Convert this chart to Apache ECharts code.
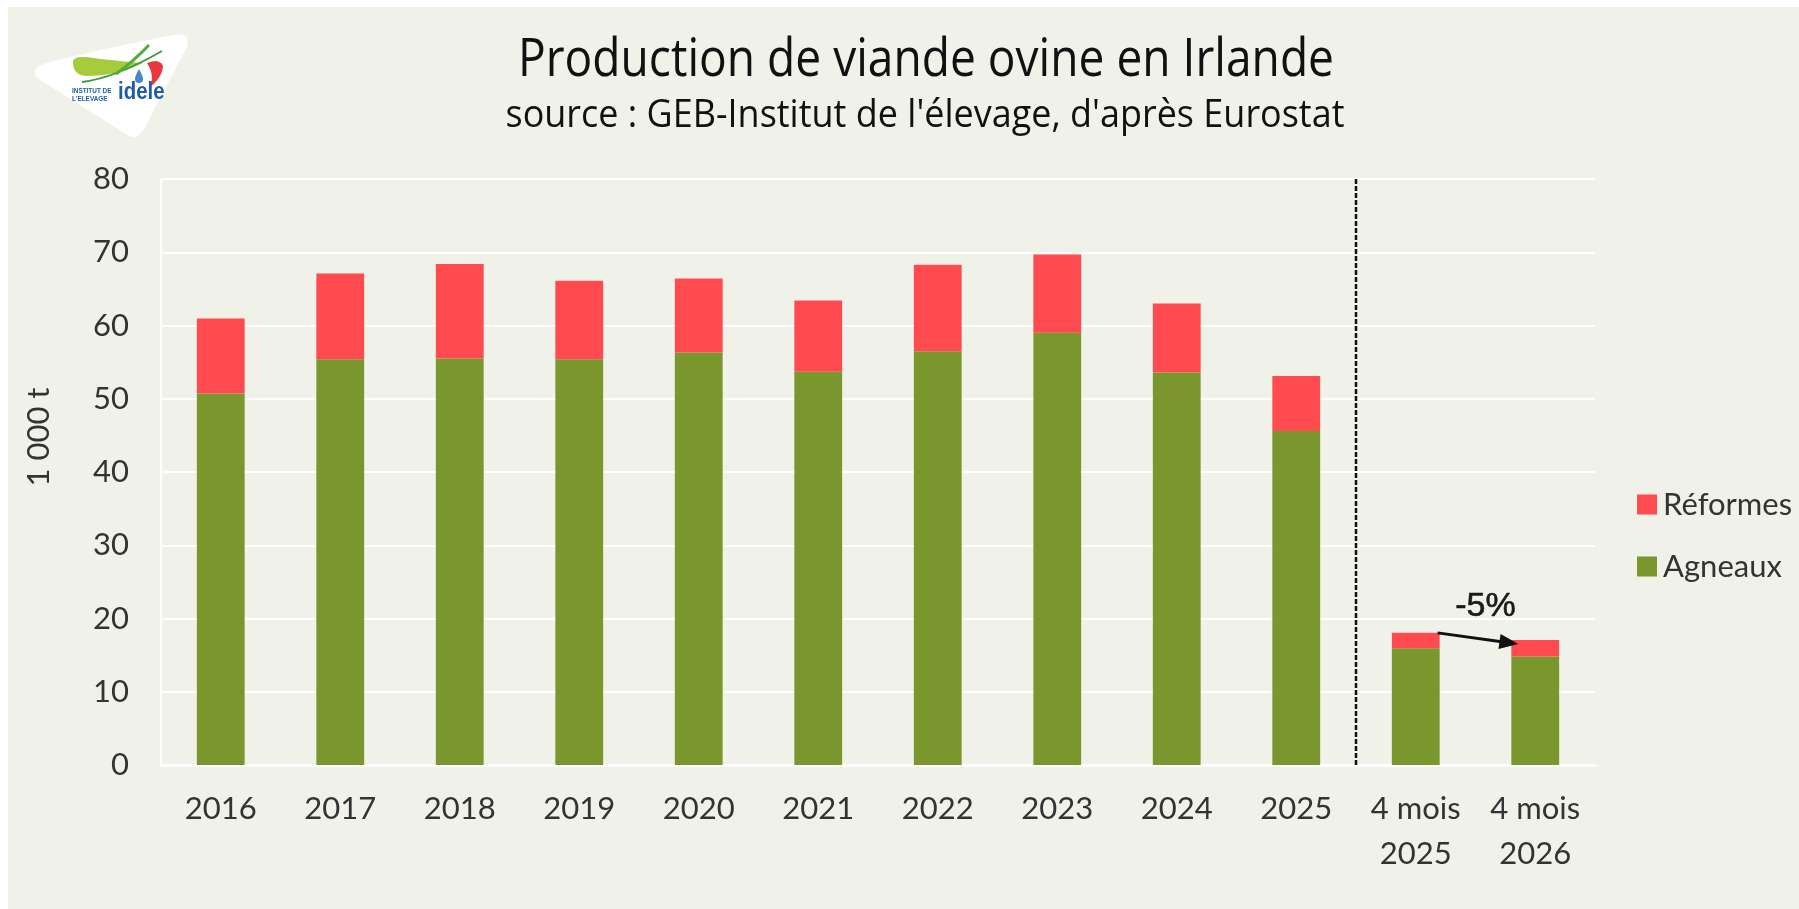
<!DOCTYPE html>
<html><head><meta charset="utf-8">
<script src="https://cdn.jsdelivr.net/npm/echarts@6/dist/echarts.min.js"></script>
<style>
html,body{margin:0;padding:0;background:#fff;overflow:hidden;}
#bg{position:absolute;left:8px;top:7px;width:1791px;height:902px;background:#F0F1E9;}
#c{position:absolute;left:0;top:0;width:1799px;height:909px;}
</style>
</head><body><div id="bg"></div><div id="c"></div>
<script>
const categories = ['2016','2017','2018','2019','2020','2021','2022','2023','2024','2025','4 mois\n2025','4 mois\n2026'];
const agneaux  = [50.7, 55.4, 55.5, 55.4, 56.3, 53.7, 56.5, 59.0, 53.6, 45.6, 15.95, 14.8];
const reformes = [10.25, 11.7, 12.9, 10.7, 10.1, 9.7, 11.8, 10.7, 9.4, 7.5, 2.1, 2.25];
const legendNames = ['Réformes', 'Agneaux'];
const titleText = 'Production de viande ovine en Irlande';
const subtitleText = "source : GEB-Institut de l'élevage, d'après Eurostat";
const yName = '1 000 t';
const annotationText = '-5%';

const GREEN = '#7A972D', RED = '#FF4B50';
const LBL = 'Lato, "Noto Sans", sans-serif';

const chart = echarts.init(document.getElementById('c'), null, {renderer:'canvas'});
chart.setOption({
  animation:false,
  grid:{left:161, right:204, top:179, bottom:144},
  legend:{
    data:legendNames, orient:'vertical', left:1632, top:484, itemWidth:20, itemHeight:20, itemGap:31,
    icon:'rect', textStyle:{fontSize:31, lineHeight:31, color:'#333', fontFamily:LBL, padding:[0,0,0,1]}
  },
  xAxis:{
    type:'category', data:categories,
    axisTick:{show:false},
    axisLine:{show:true, lineStyle:{color:'#fff', width:3}},
    axisLabel:{fontSize:31, lineHeight:45, margin:21, color:'#333', fontFamily:LBL, interval:0}
  },
  yAxis:{
    type:'value', min:0, max:80, interval:10,
    axisLine:{show:true, lineStyle:{color:'#fff', width:2}},
    axisTick:{show:false},
    splitLine:{lineStyle:{color:'#fff', width:2}},
    axisLabel:{fontSize:31, margin:32, color:'#333', fontFamily:LBL}
  },
  series:[
    {name:'Agneaux', type:'bar', stack:'t', data:agneaux, barWidth:'40%', itemStyle:{color:GREEN}},
    {name:'Réformes', type:'bar', stack:'t', data:reformes, barWidth:'40%', itemStyle:{color:RED}}
  ]
});

// layout helpers derived from the library scales
const px = i => chart.convertToPixel({xAxisIndex:0}, i);
const py = v => chart.convertToPixel({yAxisIndex:0}, v);
function measure(text, font){ const c=document.createElement('canvas').getContext('2d'); c.font=font; return c.measureText(text).width; }

const tScale = 816 / measure(titleText, '53px "Open Sans"');
const sScale = 839 / measure(subtitleText, '39px "Open Sans"');

const x9 = px(9), x10 = px(10), x11 = px(11);
const band = x11 - x10, half = band*0.2;
const sepX = (x9 + x10)/2;
const start = [x10 + half - 2, py(agneaux[10] + reformes[10])];
const tip = [x11 - half + 7, py(agneaux[11] + reformes[11]) + 4];
const dx = tip[0]-start[0], dy = tip[1]-start[1], L = Math.hypot(dx,dy);
const ux = dx/L, uy = dy/L, nx = -uy, ny = ux;
const hl = 19, hw = 7.5;
const base = [tip[0]-ux*hl, tip[1]-uy*hl];

// logo outline helper: sequence of [start, control, end] quadratic segments and straight joins
function quad(p0, c, p1, n){ const out=[]; for(let i=0;i<=n;i++){const t=i/n, a=(1-t)*(1-t), b=2*(1-t)*t, d=t*t; out.push([a*p0[0]+b*c[0]+d*p1[0], a*p0[1]+b*c[1]+d*p1[1]]);} return out; }
const logoShape = [].concat(
  quad([46,63],[110,47],[174,35],8),
  quad([174,35],[191,31],[187,47],6),
  quad([187,47],[165,88],[144,129],6),
  quad([144,129],[137,142],[126,134],6),
  quad([126,134],[83,107],[40,80],6),
  quad([40,80],[27,70],[46,63],6)
);
const leaf = [].concat(
  quad([73,63],[72,56],[86,57],5),
  quad([86,57],[116,61],[143,63],8),
  quad([143,63],[116,76],[86,76],8),
  quad([86,76],[73,75],[73,63],5)
);
const redShape = [].concat(
  quad([147,63],[160,58],[163,66],5),
  quad([163,66],[162,78],[150,87],6),
  quad([150,87],[155,75],[147,63],6)
);
const drop = [].concat(
  quad([139,69],[135,76],[135,79],4),
  quad([135,79],[135,83],[139,83],4),
  quad([139,83],[143,83],[143,79],4),
  quad([143,79],[143,76],[139,69],4)
);

const graphics = [
  {type:'text', x:926, y:61, scaleX:tScale, style:{text:titleText, font:'53px "Open Sans"', fill:'#111', align:'center', verticalAlign:'middle'}},
  {type:'text', x:925, y:116, scaleX:sScale, style:{text:subtitleText, font:'39px "Open Sans"', fill:'#111', align:'center', verticalAlign:'middle'}},
  {type:'text', x:39, y:437, rotation:Math.PI/2, style:{text:yName, font:'31px Lato', fill:'#333', align:'center', verticalAlign:'middle'}},
  {type:'line', shape:{x1:sepX, y1:py(80), x2:sepX, y2:py(0)}, style:{stroke:'#111', lineWidth:2.5, lineDash:[5,2]}, z:10},
  {type:'line', shape:{x1:start[0], y1:start[1], x2:base[0]+ux*2, y2:base[1]+uy*2}, style:{stroke:'#111', lineWidth:2.8}, z:10},
  {type:'polygon', shape:{points:[tip, [base[0]+nx*hw, base[1]+ny*hw], [base[0]-nx*hw, base[1]-ny*hw]]}, style:{fill:'#111'}, z:10},
  {type:'text', x:(x10+x11)/2 + 10, y:py(agneaux[10]+reformes[10]) - 26, style:{text:annotationText, font:'34px "Liberation Sans"', fill:'#1a1a1a', align:'center', verticalAlign:'middle', stroke:'#1a1a1a', lineWidth:0.6}, z:10},
  {type:'polygon', shape:{points:logoShape}, style:{fill:'#fff'}},
  {type:'polygon', shape:{points:leaf}, style:{fill:'#A6CB3B'}},
  {type:'bezierCurve', shape:{x1:82, y1:82, cpx1:115, cpy1:78, x2:162, y2:51}, style:{stroke:'#3E9B3A', lineWidth:2, fill:null}},
  {type:'bezierCurve', shape:{x1:116, y1:74, cpx1:135, cpy1:60, x2:149, y2:45}, style:{stroke:'#4FAE3C', lineWidth:3, fill:null}},
  {type:'polygon', shape:{points:redShape}, style:{fill:'#E8383D'}},
  {type:'polygon', shape:{points:drop}, style:{fill:'#4A86CC'}},
  {type:'text', x:72, y:87, scaleX:0.8, style:{text:'INSTITUT DE', font:'bold 8px "Liberation Sans"', fill:'#1F5CA8', verticalAlign:'top'}},
  {type:'text', x:72, y:95, scaleX:0.8, style:{text:"L'ELEVAGE", font:'bold 8px "Liberation Sans"', fill:'#1F5CA8', verticalAlign:'top'}},
  {type:'text', x:118, y:80, scaleX:0.85, style:{text:'idele', font:'bold 24px "Liberation Sans"', fill:'#1F5CA8', verticalAlign:'top'}}
];
chart.setOption({graphic:graphics});
</script>
</body></html>
